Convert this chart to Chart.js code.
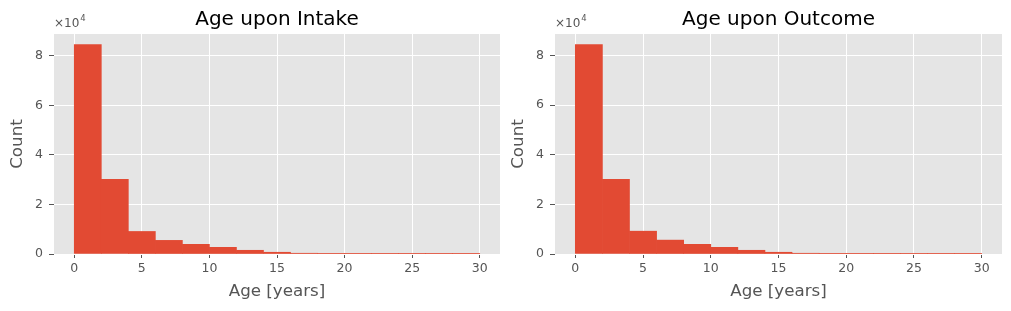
<!DOCTYPE html>
<html lang="en">
<head>
<meta charset="UTF-8">
<title>Age upon Intake / Outcome</title>
<script src="https://cdn.jsdelivr.net/npm/chart.js"></script>
<style>
    body { margin: 0; background: #fff; }
    .panel { position: absolute; top: 0; height: 311px; }
</style>
</head>
<body>
<div class="panel" style="left:0;width:505px"><canvas id="intake"></canvas></div>
<div class="panel" style="left:505px;width:506px"><canvas id="outcome"></canvas></div>
<script>
// histogram bins: width 2 years, 0..30
const binCenters = [1, 3, 5, 7, 9, 11, 13, 15, 17, 19, 21, 23, 25, 27, 29];
const intakeCounts = [84600, 30100, 9100, 5500, 3900, 2700, 1500, 700, 300, 90, 30, 12, 5, 2, 1];
const outcomeCounts = [84500, 30100, 9200, 5600, 3900, 2700, 1500, 700, 300, 90, 30, 12, 5, 2, 1];
const xTicks = [0, 5, 10, 15, 20, 25, 30];
const yTicks = [0, 20000, 40000, 60000, 80000];

const FONT = "'DejaVu Sans', sans-serif";
const GREY = '#555555';

const plotStyle = {
    id: 'plotStyle',
    beforeDraw(chart) {
        const {ctx, chartArea: a} = chart;
        ctx.save();
        ctx.fillStyle = '#E5E5E5';
        ctx.fillRect(a.left, a.top, a.right - a.left, a.bottom - a.top);
        ctx.restore();
    },
    afterDraw(chart) {
        const {ctx, chartArea: a} = chart;
        const o = chart.options.plugins.plotStyle;
        ctx.save();
        // title centred over the axes
        ctx.fillStyle = '#000';
        ctx.font = '20px ' + FONT;
        ctx.textAlign = 'center';
        ctx.textBaseline = 'alphabetic';
        ctx.fillText(o.title, (a.left + a.right) / 2, 24.5);
        // offset text x10^4
        ctx.fillStyle = GREY;
        ctx.textAlign = 'left';
        ctx.font = '12px ' + FONT;
        ctx.fillText('\u00d710', a.left, 27);
        const w = ctx.measureText('\u00d710').width;
        ctx.font = '8.5px ' + FONT;
        ctx.fillText('4', a.left + w + 1, 21);
        ctx.restore();
    }
};

const fixedTicks = list => scale => { scale.ticks = list.map(v => ({value: v})); };

function makeChart(id, title, counts, yWidth, padRight) {
    const data = binCenters.map((x, i) => ({x: x, y: counts[i]}));
    const yMax = Math.max(...counts) * 1.05;
    return new Chart(document.getElementById(id), {
        type: 'bar',
        data: {
            datasets: [{
                data: data,
                backgroundColor: '#E24A33',
                borderWidth: 0,
                barPercentage: 1,
                categoryPercentage: 1
            }]
        },
        options: {
            responsive: true,
            maintainAspectRatio: false,
            animation: false,
            layout: { padding: { top: 34, right: padRight, left: 0, bottom: 0 } },
            plugins: {
                legend: { display: false },
                tooltip: { enabled: false },
                plotStyle: { title: title }
            },
            scales: {
                x: {
                    type: 'linear',
                    min: -1.5,
                    max: 31.5,
                    offset: false,
                    border: { display: false },
                    grid: { offset: false, color: '#FFFFFF', lineWidth: 1, tickColor: GREY, tickLength: 4 },
                    afterBuildTicks: fixedTicks(xTicks),
                    ticks: {
                        color: GREY,
                        padding: 3,
                        font: { family: FONT, size: 12.5 }
                    },
                    title: {
                        display: true,
                        text: 'Age [years]',
                        color: GREY,
                        font: { family: FONT, size: 16.7 },
                        padding: { top: 0, bottom: 9 }
                    },
                    afterFit(scale) { scale.height = 57; }
                },
                y: {
                    min: 0,
                    max: yMax,
                    border: { display: false },
                    grid: { color: '#FFFFFF', lineWidth: 1, tickColor: GREY, tickLength: 5 },
                    afterBuildTicks: fixedTicks(yTicks),
                    ticks: {
                        color: GREY,
                        padding: 6,
                        font: { family: FONT, size: 12.5 },
                        callback: v => v / 10000
                    },
                    title: {
                        display: true,
                        text: 'Count',
                        color: GREY,
                        font: { family: FONT, size: 16.7 },
                        padding: { top: yWidth - 46, bottom: 0 }
                    },
                    afterFit(scale) { scale.width = yWidth; }
                }
            }
        },
        plugins: [plotStyle]
    });
}

makeChart('intake', 'Age upon Intake', intakeCounts, 54, 5);
makeChart('outcome', 'Age upon Outcome', outcomeCounts, 50, 9);
</script>
</body>
</html>
